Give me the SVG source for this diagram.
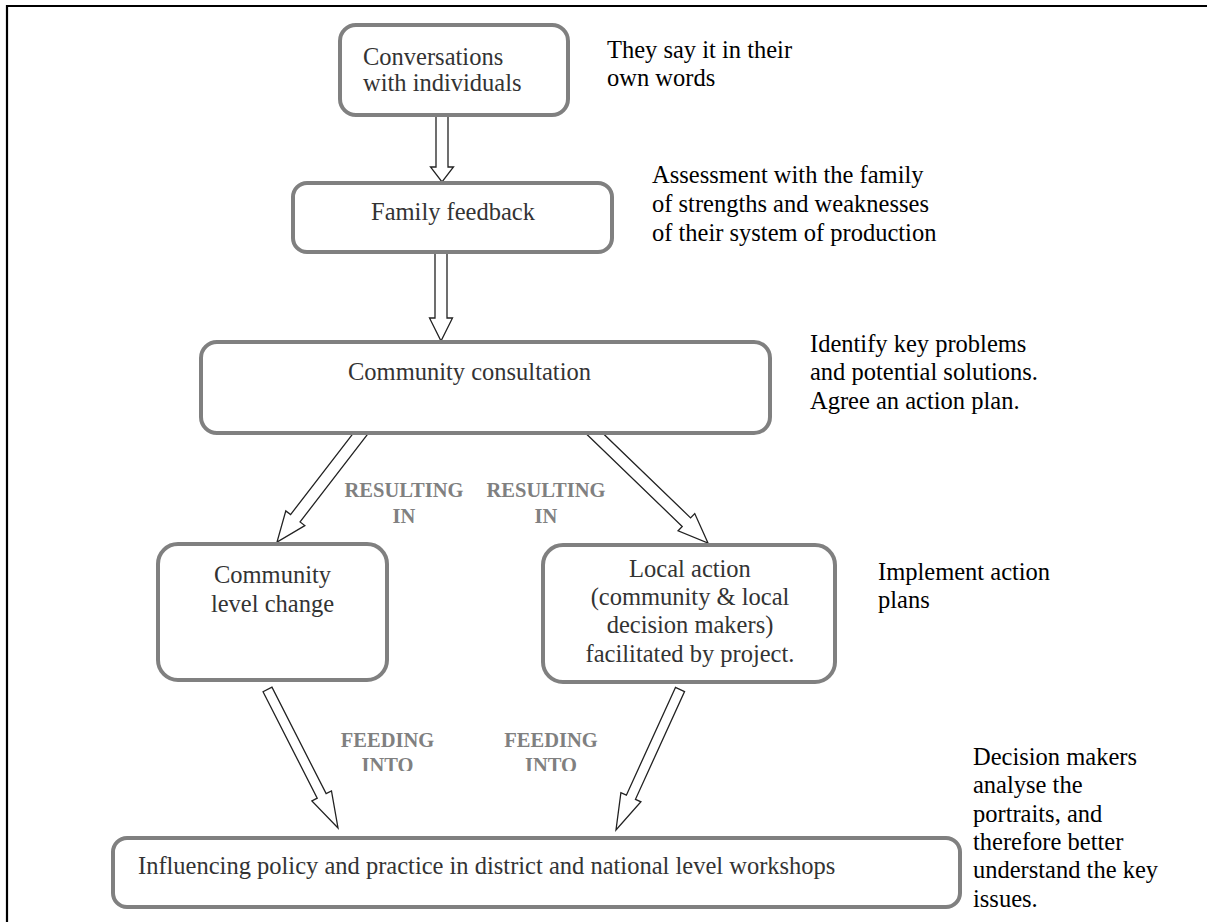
<svg xmlns="http://www.w3.org/2000/svg" width="1207" height="922" viewBox="0 0 1207 922">
<style>
.box{fill:#fff;stroke:#808080;stroke-width:4}
.nt{font-family:"Liberation Serif",serif;font-size:24.5px;fill:#333}
.dt{font-family:"Liberation Serif",serif;font-size:24.5px;fill:#000}
.lb{font-family:"Liberation Serif",serif;font-size:20.5px;font-weight:bold;fill:#808080;text-anchor:middle}
.arr{fill:#fff;stroke:#222;stroke-width:1.3;stroke-linejoin:miter}
.mid{text-anchor:middle}
</style>
<defs>
<clipPath id="clipInto"><rect x="300" y="700" width="350" height="71"/></clipPath>
</defs>
<rect x="0" y="0" width="1207" height="922" fill="#fff"/>
<g id="frame" stroke="#000" stroke-width="2.2">
<line x1="6" y1="6" x2="1207" y2="6"/>
<line x1="7" y1="5" x2="7" y2="922"/>
</g>
<g id="connectors">
<polygon class="arr" points="436,113 436,167 430.5,167 442,182 453.5,167 448,167 448,113"/>
<polygon class="arr" points="435,250 435,318 429.5,318 441,341 452.5,318 447,318 447,250"/>
<polygon class="arr" points="360.10,424.34 290.57,514.57 285.81,510.90 277,542 304.83,525.56 300.07,521.89 369.60,431.66"/>
<polygon class="arr" points="584.65,432.32 682.24,526.49 678.08,530.81 708,543 694.74,513.54 690.58,517.85 592.99,423.68"/>
<polygon class="arr" points="263.04,691.77 317.21,798.18 311.87,800.90 338,828 331.47,790.92 326.13,793.64 271.96,687.23"/>
<polygon class="arr" points="675.45,687.43 626.37,795.17 620.91,792.68 616,830 640.93,801.80 635.47,799.31 684.55,691.57"/>
</g>
<g id="node-conversations">
<rect class="box" x="340" y="25" width="228" height="90" rx="16"/>
<text class="nt" x="363" y="65">Conversations</text>
<text class="nt" x="363" y="91">with individuals</text>
</g>
<g id="node-family">
<rect class="box" x="293" y="183" width="319" height="69" rx="14"/>
<text class="nt mid" x="453" y="220">Family feedback</text>
</g>
<g id="node-consultation">
<rect class="box" x="201" y="342" width="569" height="91" rx="16"/>
<text class="nt" x="348" y="380">Community consultation</text>
</g>
<g id="node-community-change">
<rect class="box" x="158" y="544" width="229" height="136" rx="20"/>
<text class="nt mid" x="272.5" y="583">Community</text>
<text class="nt mid" x="272.5" y="612">level change</text>
</g>
<g id="node-local-action">
<rect class="box" x="543" y="545" width="292" height="137" rx="20"/>
<text class="nt mid" x="690" y="577">Local action</text>
<text class="nt mid" x="690" y="605">(community &amp; local</text>
<text class="nt mid" x="690" y="633">decision makers)</text>
<text class="nt mid" x="690" y="662">facilitated by project.</text>
</g>
<g id="node-influencing">
<rect class="box" x="113" y="838" width="847" height="69" rx="14"/>
<text class="nt" x="138" y="874">Influencing policy and practice in district and national level workshops</text>
</g>
<g id="labels">
<text class="lb" x="404" y="497">RESULTING</text>
<text class="lb" x="404" y="523">IN</text>
<text class="lb" x="546" y="497">RESULTING</text>
<text class="lb" x="546" y="523">IN</text>
<text class="lb" x="387.5" y="747">FEEDING</text>
<text class="lb" x="387.5" y="772" clip-path="url(#clipInto)">INTO</text>
<text class="lb" x="551" y="747">FEEDING</text>
<text class="lb" x="551" y="772" clip-path="url(#clipInto)">INTO</text>
</g>
<g id="descriptions">
<text class="dt" x="607" y="58">They say it in their</text>
<text class="dt" x="607" y="86">own words</text>
<text class="dt" x="652" y="183">Assessment with the family</text>
<text class="dt" x="652" y="212">of strengths and weaknesses</text>
<text class="dt" x="652" y="241">of their system of production</text>
<text class="dt" x="810" y="352">Identify key problems</text>
<text class="dt" x="810" y="380">and potential solutions.</text>
<text class="dt" x="810" y="409">Agree an action plan.</text>
<text class="dt" x="878" y="580">Implement action</text>
<text class="dt" x="878" y="608">plans</text>
<text class="dt" x="973" y="765">Decision makers</text>
<text class="dt" x="973" y="793">analyse the</text>
<text class="dt" x="973" y="822">portraits, and</text>
<text class="dt" x="973" y="850">therefore better</text>
<text class="dt" x="973" y="878">understand the key</text>
<text class="dt" x="973" y="907">issues.</text>
</g>
</svg>
